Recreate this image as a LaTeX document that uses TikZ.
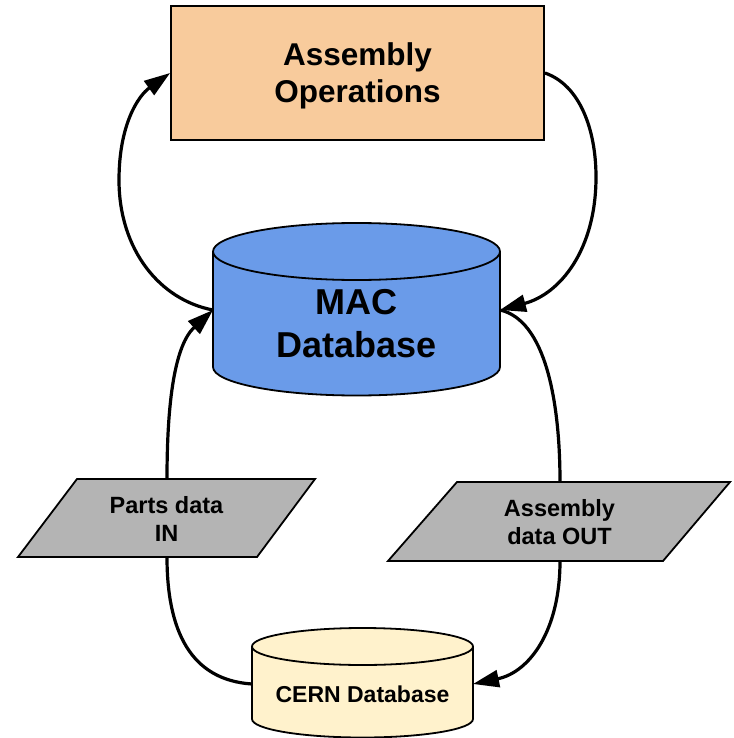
\documentclass[tikz,border=0pt]{standalone}
\usepackage{fontspec}
\setmainfont{Liberation Sans}
\usetikzlibrary{arrows.meta}
\definecolor{peach}{HTML}{F8CB9C}
\definecolor{macblue}{HTML}{6A9BE9}
\definecolor{iogray}{HTML}{B4B4B4}
\definecolor{cernyellow}{HTML}{FFF2CC}
\begin{document}
\begin{tikzpicture}[x=1pt,y=-1pt,
  outline/.style={draw=black,line width=1.8pt,line join=miter},
  opbox/.style={outline,fill=peach,minimum width=373pt,minimum height=134pt,inner sep=0pt},
  optxt/.style={align=center,inner sep=0pt,font=\fontsize{31.5}{37}\selectfont\bfseries},
  bigtxt/.style={align=center,inner sep=0pt,font=\fontsize{36}{43}\selectfont\bfseries},
  iotxt/.style={align=center,inner sep=0pt,font=\fontsize{23.5}{28}\selectfont\bfseries},
  cerntxt/.style={align=center,inner sep=0pt,font=\fontsize{23}{28}\selectfont\bfseries},
  conn/.style={draw=black,line width=3.2pt},
  arr/.style={conn,-{Triangle[length=26pt,width=17pt]}}
]
\useasboundingbox (0,0) rectangle (733,738);

% Assembly Operations box
\node[opbox] (ao) at (357.5,73) {};
\node[optxt] (aotxt) at (357.5,75.5) {Assembly\\Operations};

% MAC database cylinder
\filldraw[outline,fill=macblue] (213,251.5) -- (213,367)
  arc[start angle=180,end angle=0,x radius=143.5,y radius=28.5] -- (500,251.5)
  arc[start angle=0,end angle=-180,x radius=143.5,y radius=28.5] -- cycle;
\draw[outline] (213,251.5) arc[start angle=180,end angle=0,x radius=143.5,y radius=28.5];
\node[bigtxt] (mac) at (356.5,324) {MAC\\Database};

% CERN database cylinder
\filldraw[outline,fill=cernyellow] (252,646.5) -- (252,719)
  arc[start angle=180,end angle=0,x radius=110.5,y radius=18.5] -- (473,646.5)
  arc[start angle=0,end angle=-180,x radius=110.5,y radius=18.5] -- cycle;
\draw[outline] (252,646.5) arc[start angle=180,end angle=0,x radius=110.5,y radius=18.5];
\node[cerntxt] (cern) at (362.5,694) {CERN Database};

% Parallelograms
\filldraw[outline,fill=iogray] (77,479) -- (315,479) -- (257,557) -- (18,557) -- cycle;
\node[iotxt] (partsin) at (166.5,518.5) {Parts data\\IN};
\filldraw[outline,fill=iogray] (457,482) -- (730,482) -- (663,561) -- (388,561) -- cycle;
\node[iotxt] (asmout) at (559.5,522.5) {Assembly\\data OUT};

% connection points
\coordinate (macL) at (213,310);
\coordinate (macR) at (500,310);
\coordinate (inT) at (167,479);
\coordinate (inB) at (167,557);
\coordinate (outT) at (560,482);
\coordinate (outB) at (560,561);
\coordinate (cernL) at (252,684);
\coordinate (cernR) at (473,684);

% connectors
\draw[arr] (macL) .. controls (160,300) and (119,250) .. (119,180)
  .. controls (119,125) and (138,96) .. (ao.west);
\draw[arr] (ao.east) .. controls (580,85) and (596,130) .. (596,177)
  .. controls (596,250) and (560,294) .. (macR);
\draw[arr] (inT) .. controls (167,400) and (175,345) .. (macL);
\draw[conn] (cernL) .. controls (190,680) and (167,630) .. (inB);
\draw[conn] (macR) .. controls (545,320) and (560,400) .. (outT);
\draw[arr] (outB) .. controls (560,630) and (530,672) .. (cernR);
\end{tikzpicture}
\end{document}
